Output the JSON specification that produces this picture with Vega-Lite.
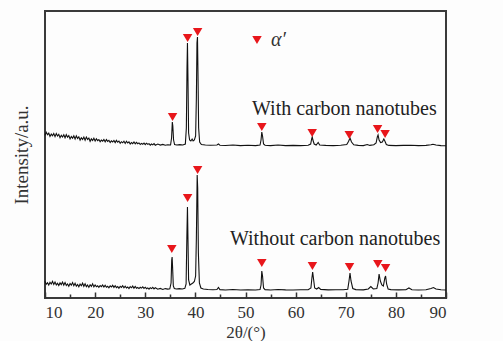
{
  "$schema": "https://vega.github.io/schema/vega-lite/v6.json",
  "width": 401,
  "height": 287,
  "autosize": {"type": "none"},
  "padding": {"left": 45, "top": 11, "right": 57, "bottom": 43},
  "background": "#fdfdfd",
  "config": {
    "view": {"stroke": "#3a3a3a", "strokeWidth": 2},
    "font": "Liberation Serif",
    "axis": {"labelFont": "Liberation Serif", "titleFont": "Liberation Serif", "labelFontSize": 17, "titleFontSize": 17,
             "titleFontWeight": "normal", "labelColor": "#333", "titleColor": "#333", "grid": false, "domain": false},
    "legend": {"labelFont": "Liberation Serif"}
  },
  "datasets": {
    "xrd": [
      {"t":10,"i":16.6,"s":"Without"},{"t":10.25,"i":13.7,"s":"Without"},{"t":10.5,"i":15.3,"s":"Without"},{"t":10.75,"i":13.0,"s":"Without"},{"t":11,"i":15.7,"s":"Without"},{"t":11.25,"i":14.0,"s":"Without"},{"t":11.5,"i":16.6,"s":"Without"},{"t":11.75,"i":13.5,"s":"Without"},
      {"t":12,"i":16.0,"s":"Without"},{"t":12.25,"i":13.1,"s":"Without"},{"t":12.5,"i":14.7,"s":"Without"},{"t":12.75,"i":12.4,"s":"Without"},{"t":13,"i":15.1,"s":"Without"},{"t":13.25,"i":13.4,"s":"Without"},{"t":13.5,"i":16.0,"s":"Without"},{"t":13.75,"i":12.9,"s":"Without"},
      {"t":14,"i":15.4,"s":"Without"},{"t":14.25,"i":12.5,"s":"Without"},{"t":14.5,"i":14.1,"s":"Without"},{"t":14.75,"i":11.8,"s":"Without"},{"t":15,"i":14.5,"s":"Without"},{"t":15.25,"i":12.8,"s":"Without"},{"t":15.5,"i":15.4,"s":"Without"},{"t":15.75,"i":12.3,"s":"Without"},
      {"t":16,"i":14.8,"s":"Without"},{"t":16.25,"i":11.9,"s":"Without"},{"t":16.5,"i":13.5,"s":"Without"},{"t":16.75,"i":11.2,"s":"Without"},{"t":17,"i":13.9,"s":"Without"},{"t":17.25,"i":12.2,"s":"Without"},{"t":17.5,"i":14.8,"s":"Without"},{"t":17.75,"i":11.7,"s":"Without"},
      {"t":18,"i":14.2,"s":"Without"},{"t":18.25,"i":11.3,"s":"Without"},{"t":18.5,"i":12.9,"s":"Without"},{"t":18.75,"i":10.6,"s":"Without"},{"t":19,"i":13.3,"s":"Without"},{"t":19.25,"i":11.6,"s":"Without"},{"t":19.5,"i":14.2,"s":"Without"},{"t":19.75,"i":11.1,"s":"Without"},
      {"t":20,"i":13.1,"s":"Without"},{"t":20.25,"i":11.2,"s":"Without"},{"t":20.5,"i":12.2,"s":"Without"},{"t":20.75,"i":10.6,"s":"Without"},{"t":21,"i":12.5,"s":"Without"},{"t":21.25,"i":11.4,"s":"Without"},{"t":21.5,"i":13.1,"s":"Without"},{"t":21.75,"i":11.0,"s":"Without"},
      {"t":22,"i":12.7,"s":"Without"},{"t":22.25,"i":10.8,"s":"Without"},{"t":22.5,"i":11.8,"s":"Without"},{"t":22.75,"i":10.2,"s":"Without"},{"t":23,"i":12.1,"s":"Without"},{"t":23.25,"i":11.0,"s":"Without"},{"t":23.5,"i":12.7,"s":"Without"},{"t":23.75,"i":10.6,"s":"Without"},
      {"t":24,"i":12.3,"s":"Without"},{"t":24.25,"i":10.4,"s":"Without"},{"t":24.5,"i":11.4,"s":"Without"},{"t":24.75,"i":9.8,"s":"Without"},{"t":25,"i":11.7,"s":"Without"},{"t":25.25,"i":10.6,"s":"Without"},{"t":25.5,"i":12.3,"s":"Without"},{"t":25.75,"i":10.2,"s":"Without"},
      {"t":26,"i":11.9,"s":"Without"},{"t":26.25,"i":10.0,"s":"Without"},{"t":26.5,"i":11.0,"s":"Without"},{"t":26.75,"i":9.4,"s":"Without"},{"t":27,"i":11.3,"s":"Without"},{"t":27.25,"i":10.2,"s":"Without"},{"t":27.5,"i":11.9,"s":"Without"},{"t":27.75,"i":9.8,"s":"Without"},
      {"t":28,"i":11.5,"s":"Without"},{"t":28.25,"i":9.8,"s":"Without"},{"t":28.5,"i":10.5,"s":"Without"},{"t":28.75,"i":9.4,"s":"Without"},{"t":29,"i":10.7,"s":"Without"},{"t":29.25,"i":9.9,"s":"Without"},{"t":29.5,"i":11.1,"s":"Without"},{"t":29.75,"i":9.6,"s":"Without"},
      {"t":30,"i":10.8,"s":"Without"},{"t":30.25,"i":9.3,"s":"Without"},{"t":30.5,"i":10.1,"s":"Without"},{"t":30.75,"i":8.9,"s":"Without"},{"t":31,"i":10.3,"s":"Without"},{"t":31.25,"i":9.4,"s":"Without"},{"t":31.5,"i":10.6,"s":"Without"},{"t":31.75,"i":9.1,"s":"Without"},
      {"t":32,"i":10.3,"s":"Without"},{"t":32.5,"i":8.8,"s":"Without"},{"t":33,"i":9.6,"s":"Without"},{"t":33.5,"i":8.6,"s":"Without"},{"t":34,"i":9.4,"s":"Without"},{"t":34.5,"i":8.9,"s":"Without"},{"t":34.9,"i":9.2,"s":"Without"},
      {"t":35.15,"i":15,"s":"Without"},{"t":35.28,"i":38,"s":"Without"},{"t":35.36,"i":41,"s":"Without"},{"t":35.46,"i":30,"s":"Without"},{"t":35.6,"i":12,"s":"Without"},{"t":35.8,"i":9.5,"s":"Without"},{"t":36.2,"i":9,"s":"Without"},{"t":36.8,"i":9.4,"s":"Without"},{"t":37.4,"i":9,"s":"Without"},{"t":37.9,"i":9.6,"s":"Without"},
      {"t":38.15,"i":14,"s":"Without"},{"t":38.3,"i":60,"s":"Without"},{"t":38.42,"i":91,"s":"Without"},{"t":38.52,"i":60,"s":"Without"},{"t":38.65,"i":18,"s":"Without"},{"t":38.9,"i":13,"s":"Without"},{"t":39.2,"i":14,"s":"Without"},{"t":39.5,"i":15,"s":"Without"},{"t":39.8,"i":16.5,"s":"Without"},
      {"t":40.05,"i":22,"s":"Without"},{"t":40.2,"i":60,"s":"Without"},{"t":40.36,"i":123,"s":"Without"},{"t":40.46,"i":110,"s":"Without"},{"t":40.6,"i":45,"s":"Without"},{"t":40.8,"i":15,"s":"Without"},{"t":41.1,"i":10,"s":"Without"},{"t":41.6,"i":9,"s":"Without"},{"t":42.5,"i":8.5,"s":"Without"},{"t":43.5,"i":8.2,"s":"Without"},
      {"t":44.3,"i":8.5,"s":"Without"},{"t":44.6,"i":10.5,"s":"Without"},{"t":44.9,"i":8.4,"s":"Without"},{"t":46,"i":8,"s":"Without"},{"t":47.5,"i":8.5,"s":"Without"},{"t":49,"i":8,"s":"Without"},{"t":50.5,"i":8.3,"s":"Without"},{"t":52,"i":8,"s":"Without"},{"t":52.9,"i":8.4,"s":"Without"},
      {"t":53.1,"i":13,"s":"Without"},{"t":53.25,"i":27,"s":"Without"},{"t":53.4,"i":22,"s":"Without"},{"t":53.6,"i":10,"s":"Without"},{"t":53.9,"i":8.4,"s":"Without"},{"t":55,"i":8,"s":"Without"},{"t":56.5,"i":8.5,"s":"Without"},{"t":58,"i":8.1,"s":"Without"},{"t":59.5,"i":8,"s":"Without"},{"t":61,"i":8.3,"s":"Without"},{"t":62.5,"i":8.2,"s":"Without"},
      {"t":63.05,"i":10,"s":"Without"},{"t":63.25,"i":20,"s":"Without"},{"t":63.4,"i":26,"s":"Without"},{"t":63.55,"i":20,"s":"Without"},{"t":63.8,"i":10,"s":"Without"},{"t":64.2,"i":9,"s":"Without"},{"t":64.6,"i":10.5,"s":"Without"},{"t":65,"i":8.6,"s":"Without"},{"t":66.5,"i":8.1,"s":"Without"},{"t":68,"i":8.3,"s":"Without"},{"t":69.5,"i":8.2,"s":"Without"},
      {"t":70.4,"i":8.8,"s":"Without"},{"t":70.65,"i":17,"s":"Without"},{"t":70.85,"i":25,"s":"Without"},{"t":71.05,"i":17,"s":"Without"},{"t":71.4,"i":9.5,"s":"Without"},{"t":72,"i":8.4,"s":"Without"},{"t":73.5,"i":8.1,"s":"Without"},{"t":74.5,"i":9,"s":"Without"},{"t":75,"i":11.5,"s":"Without"},{"t":75.5,"i":9,"s":"Without"},
      {"t":76.2,"i":9.5,"s":"Without"},{"t":76.45,"i":15,"s":"Without"},{"t":76.65,"i":24,"s":"Without"},{"t":76.9,"i":17,"s":"Without"},{"t":77.2,"i":13,"s":"Without"},{"t":77.5,"i":12,"s":"Without"},{"t":77.8,"i":20,"s":"Without"},{"t":77.95,"i":22,"s":"Without"},{"t":78.15,"i":14,"s":"Without"},{"t":78.45,"i":9,"s":"Without"},
      {"t":79,"i":8.4,"s":"Without"},{"t":80.5,"i":8.1,"s":"Without"},{"t":82,"i":8.3,"s":"Without"},{"t":82.6,"i":10,"s":"Without"},{"t":83.2,"i":8.2,"s":"Without"},{"t":84.5,"i":8,"s":"Without"},{"t":86,"i":8.3,"s":"Without"},{"t":87,"i":9.5,"s":"Without"},{"t":87.5,"i":10.5,"s":"Without"},{"t":88,"i":9,"s":"Without"},{"t":89,"i":8.3,"s":"Without"},{"t":90,"i":8,"s":"Without"},

      {"t":10,"i":162.6,"s":"With"},{"t":10.25,"i":165.7,"s":"With"},{"t":10.5,"i":163.2,"s":"With"},{"t":10.75,"i":164.8,"s":"With"},{"t":11,"i":161.5,"s":"With"},{"t":11.25,"i":163.9,"s":"With"},{"t":11.5,"i":162.2,"s":"With"},{"t":11.75,"i":164.5,"s":"With"},
      {"t":12,"i":161.4,"s":"With"},{"t":12.25,"i":164.5,"s":"With"},{"t":12.5,"i":162.0,"s":"With"},{"t":12.75,"i":163.6,"s":"With"},{"t":13,"i":160.3,"s":"With"},{"t":13.25,"i":162.7,"s":"With"},{"t":13.5,"i":161.0,"s":"With"},{"t":13.75,"i":163.3,"s":"With"},
      {"t":14,"i":160.2,"s":"With"},{"t":14.25,"i":163.3,"s":"With"},{"t":14.5,"i":160.8,"s":"With"},{"t":14.75,"i":162.4,"s":"With"},{"t":15,"i":159.1,"s":"With"},{"t":15.25,"i":161.5,"s":"With"},{"t":15.5,"i":159.8,"s":"With"},{"t":15.75,"i":162.1,"s":"With"},
      {"t":16,"i":159.0,"s":"With"},{"t":16.25,"i":162.1,"s":"With"},{"t":16.5,"i":159.6,"s":"With"},{"t":16.75,"i":161.2,"s":"With"},{"t":17,"i":157.9,"s":"With"},{"t":17.25,"i":160.3,"s":"With"},{"t":17.5,"i":158.6,"s":"With"},{"t":17.75,"i":160.9,"s":"With"},
      {"t":18,"i":157.8,"s":"With"},{"t":18.25,"i":160.9,"s":"With"},{"t":18.5,"i":158.4,"s":"With"},{"t":18.75,"i":160.0,"s":"With"},{"t":19,"i":156.7,"s":"With"},{"t":19.25,"i":159.1,"s":"With"},{"t":19.5,"i":157.4,"s":"With"},{"t":19.75,"i":159.7,"s":"With"},
      {"t":20,"i":157.0,"s":"With"},{"t":20.25,"i":159.2,"s":"With"},{"t":20.5,"i":157.4,"s":"With"},{"t":20.75,"i":158.5,"s":"With"},{"t":21,"i":156.3,"s":"With"},{"t":21.25,"i":157.9,"s":"With"},{"t":21.5,"i":156.8,"s":"With"},{"t":21.75,"i":158.4,"s":"With"},
      {"t":22,"i":156.2,"s":"With"},{"t":22.25,"i":158.4,"s":"With"},{"t":22.5,"i":156.6,"s":"With"},{"t":22.75,"i":157.7,"s":"With"},{"t":23,"i":155.5,"s":"With"},{"t":23.25,"i":157.1,"s":"With"},{"t":23.5,"i":156.0,"s":"With"},{"t":23.75,"i":157.6,"s":"With"},
      {"t":24,"i":155.4,"s":"With"},{"t":24.25,"i":157.6,"s":"With"},{"t":24.5,"i":155.8,"s":"With"},{"t":24.75,"i":156.9,"s":"With"},{"t":25,"i":154.7,"s":"With"},{"t":25.25,"i":156.3,"s":"With"},{"t":25.5,"i":155.2,"s":"With"},{"t":25.75,"i":156.8,"s":"With"},
      {"t":26,"i":154.6,"s":"With"},{"t":26.25,"i":156.8,"s":"With"},{"t":26.5,"i":155.0,"s":"With"},{"t":26.75,"i":156.1,"s":"With"},{"t":27,"i":153.9,"s":"With"},{"t":27.25,"i":155.5,"s":"With"},{"t":27.5,"i":154.4,"s":"With"},{"t":27.75,"i":156.0,"s":"With"},
      {"t":28,"i":154.1,"s":"With"},{"t":28.25,"i":155.6,"s":"With"},{"t":28.5,"i":154.3,"s":"With"},{"t":28.75,"i":155.1,"s":"With"},{"t":29,"i":153.5,"s":"With"},{"t":29.25,"i":154.6,"s":"With"},{"t":29.5,"i":153.7,"s":"With"},{"t":29.75,"i":154.9,"s":"With"},
      {"t":30,"i":153.3,"s":"With"},{"t":30.25,"i":154.8,"s":"With"},{"t":30.5,"i":153.6,"s":"With"},{"t":30.75,"i":154.4,"s":"With"},{"t":31,"i":152.9,"s":"With"},{"t":31.25,"i":154.0,"s":"With"},{"t":31.5,"i":153.1,"s":"With"},{"t":31.75,"i":154.4,"s":"With"},
      {"t":32,"i":152.8,"s":"With"},{"t":32.5,"i":154.0,"s":"With"},{"t":33,"i":152.9,"s":"With"},{"t":33.5,"i":153.6,"s":"With"},{"t":34,"i":152.7,"s":"With"},{"t":34.5,"i":153.2,"s":"With"},{"t":35.05,"i":153,"s":"With"},
      {"t":35.25,"i":160,"s":"With"},{"t":35.4,"i":176,"s":"With"},{"t":35.5,"i":172,"s":"With"},{"t":35.65,"i":158,"s":"With"},{"t":35.85,"i":153.5,"s":"With"},{"t":36.3,"i":153,"s":"With"},{"t":36.9,"i":153.4,"s":"With"},{"t":37.5,"i":153,"s":"With"},{"t":38.0,"i":154,"s":"With"},
      {"t":38.2,"i":170,"s":"With"},{"t":38.33,"i":230,"s":"With"},{"t":38.42,"i":255,"s":"With"},{"t":38.52,"i":220,"s":"With"},{"t":38.65,"i":165,"s":"With"},{"t":38.85,"i":158,"s":"With"},{"t":39.1,"i":157,"s":"With"},{"t":39.35,"i":159,"s":"With"},{"t":39.55,"i":157,"s":"With"},{"t":39.8,"i":158,"s":"With"},
      {"t":40.05,"i":162,"s":"With"},{"t":40.2,"i":200,"s":"With"},{"t":40.32,"i":255,"s":"With"},{"t":40.42,"i":261,"s":"With"},{"t":40.52,"i":225,"s":"With"},{"t":40.65,"i":170,"s":"With"},{"t":40.85,"i":156,"s":"With"},{"t":41.2,"i":153.5,"s":"With"},{"t":42,"i":153,"s":"With"},{"t":43,"i":152.8,"s":"With"},
      {"t":44.3,"i":153,"s":"With"},{"t":44.6,"i":154,"s":"With"},{"t":44.9,"i":152.8,"s":"With"},{"t":46,"i":152.5,"s":"With"},{"t":47.5,"i":153,"s":"With"},{"t":49,"i":152.4,"s":"With"},{"t":50.5,"i":152.8,"s":"With"},{"t":52,"i":152.4,"s":"With"},{"t":52.9,"i":153,"s":"With"},
      {"t":53.1,"i":158,"s":"With"},{"t":53.25,"i":166,"s":"With"},{"t":53.4,"i":162,"s":"With"},{"t":53.6,"i":154,"s":"With"},{"t":53.9,"i":152.8,"s":"With"},{"t":55,"i":152.4,"s":"With"},{"t":56.5,"i":153,"s":"With"},{"t":58,"i":152.4,"s":"With"},{"t":59.5,"i":152.6,"s":"With"},{"t":61,"i":152.4,"s":"With"},{"t":62.5,"i":152.8,"s":"With"},
      {"t":63.0,"i":154,"s":"With"},{"t":63.2,"i":159,"s":"With"},{"t":63.32,"i":161,"s":"With"},{"t":63.45,"i":158,"s":"With"},{"t":63.7,"i":154,"s":"With"},{"t":64.1,"i":153,"s":"With"},{"t":64.5,"i":155.5,"s":"With"},{"t":64.8,"i":153,"s":"With"},{"t":66,"i":152.6,"s":"With"},{"t":67.5,"i":152.4,"s":"With"},{"t":69,"i":152.8,"s":"With"},
      {"t":70.2,"i":153.5,"s":"With"},{"t":70.55,"i":156.5,"s":"With"},{"t":70.85,"i":160,"s":"With"},{"t":71.15,"i":156,"s":"With"},{"t":71.6,"i":153.2,"s":"With"},{"t":72.5,"i":152.6,"s":"With"},{"t":73.5,"i":152.4,"s":"With"},{"t":74.3,"i":153.5,"s":"With"},{"t":74.8,"i":152.6,"s":"With"},
      {"t":75.6,"i":153.2,"s":"With"},{"t":76.05,"i":155,"s":"With"},{"t":76.3,"i":161,"s":"With"},{"t":76.45,"i":163,"s":"With"},{"t":76.65,"i":158,"s":"With"},{"t":76.95,"i":155.5,"s":"With"},{"t":77.3,"i":156,"s":"With"},{"t":77.6,"i":159,"s":"With"},{"t":77.8,"i":157,"s":"With"},{"t":78.1,"i":153.5,"s":"With"},
      {"t":78.6,"i":152.6,"s":"With"},{"t":80,"i":152.4,"s":"With"},{"t":81.5,"i":152.6,"s":"With"},{"t":83,"i":152.8,"s":"With"},{"t":84.5,"i":152.4,"s":"With"},{"t":86,"i":152.6,"s":"With"},{"t":87,"i":153.3,"s":"With"},{"t":87.4,"i":153.8,"s":"With"},{"t":88,"i":153,"s":"With"},{"t":89,"i":152.4,"s":"With"},{"t":90,"i":152.2,"s":"With"}
    ],
    "marks": [
      {"t":35.3,"i":49,"phase":"α′"},{"t":38.45,"i":100,"phase":"α′"},{"t":40.45,"i":128,"phase":"α′"},{"t":53.25,"i":35,"phase":"α′"},{"t":63.35,"i":32,"phase":"α′"},{"t":70.75,"i":31,"phase":"α′"},{"t":76.4,"i":34,"phase":"α′"},{"t":77.95,"i":30,"phase":"α′"},
      {"t":35.45,"i":181,"phase":"α′"},{"t":38.45,"i":260,"phase":"α′"},{"t":40.45,"i":266,"phase":"α′"},{"t":53.25,"i":171,"phase":"α′"},{"t":63.3,"i":165,"phase":"α′"},{"t":70.7,"i":163,"phase":"α′"},{"t":76.35,"i":169,"phase":"α′"},{"t":77.85,"i":164,"phase":"α′"}
    ],
    "labels": [
      {"t":51.3,"i":189,"label":"With carbon nanotubes"},
      {"t":46.9,"i":59,"label":"Without carbon nanotubes"}
    ]
  },
  "encoding": {
    "y": {"field": "i", "type": "quantitative",
          "scale": {"domain": [0, 287], "nice": false},
          "axis": {"title": "Intensity/a.u.", "labels": false, "ticks": false, "domain": false, "grid": false,
                   "titleFontSize": 19, "titlePadding": 14}}
  },
  "layer": [
    {
      "data": {"name": "xrd"},
      "mark": {"type": "line", "color": "#111111", "strokeWidth": 1.1, "interpolate": "linear"},
      "encoding": {
        "x": {"field": "t", "type": "quantitative",
              "scale": {"domain": [10, 90], "nice": false, "zero": false},
              "axis": {"orient": "bottom", "values": [10,20,30,40,50,60,70,80,90], "title": "2θ/(°)",
                       "tickSize": -6, "tickWidth": 1.5, "tickColor": "#333", "labelPadding": 12, "titlePadding": 4}},
        "detail": {"field": "s"}
      }
    },
    {
      "data": {"name": "marks"},
      "mark": {"type": "point", "shape": "triangle-down", "filled": true, "size": 90, "opacity": 1, "strokeWidth": 0},
      "encoding": {
        "x": {"field": "t", "type": "quantitative",
              "axis": {"orient": "bottom", "values": [15,25,35,45,55,65,75,85], "labels": false, "title": null,
                       "tickSize": -4, "tickWidth": 1.5, "tickColor": "#333"}},
        "color": {"field": "phase", "type": "nominal",
                  "scale": {"range": ["#e8161b"]},
                  "legend": {"orient": "none", "legendX": 202, "legendY": 19, "title": null,
                             "symbolType": "triangle-down", "symbolSize": 90, "symbolStrokeWidth": 0,
                             "labelFont": "Liberation Serif", "labelFontSize": 20, "labelFontStyle": "italic", "labelColor": "#333", "labelOffset": 4}}
      }
    },
    {
      "data": {"name": "labels"},
      "mark": {"type": "text", "align": "left", "baseline": "middle", "font": "Liberation Serif", "fontSize": 20, "color": "#222"},
      "encoding": {
        "x": {"field": "t", "type": "quantitative", "axis": null},
        "text": {"field": "label"}
      }
    }
  ],
  "resolve": {"axis": {"x": "independent"}}
}
